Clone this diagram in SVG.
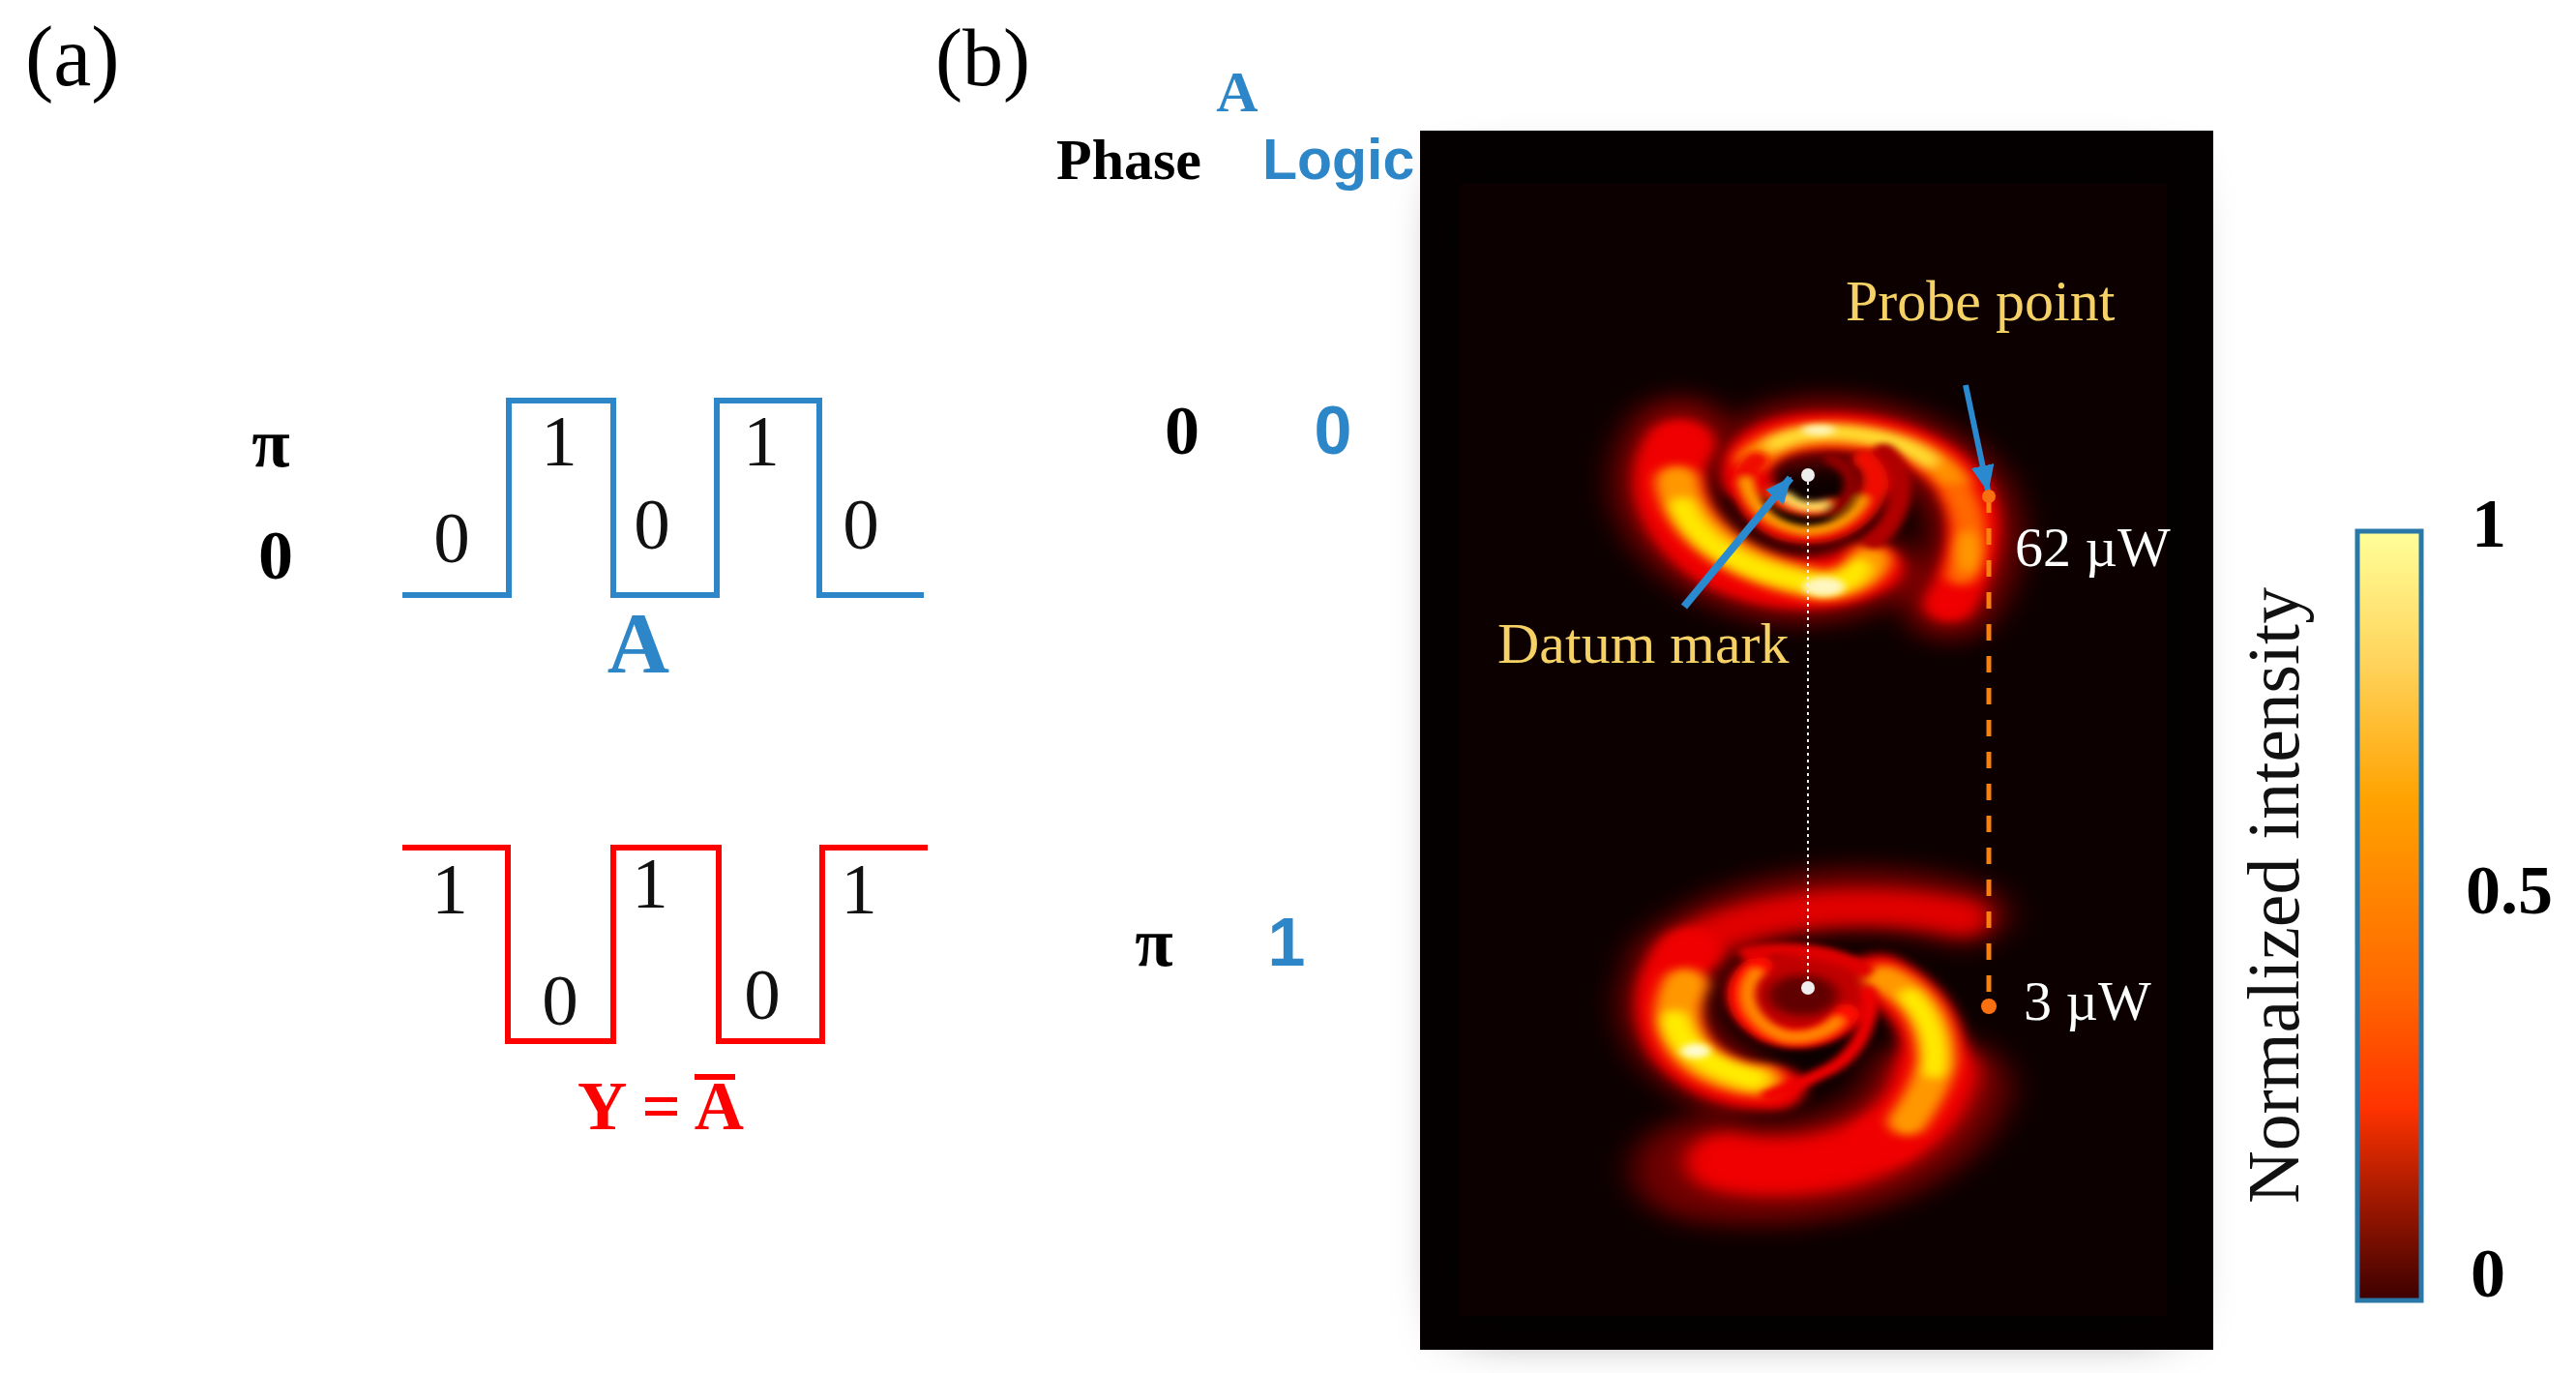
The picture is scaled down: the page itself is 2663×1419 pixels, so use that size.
<svg xmlns="http://www.w3.org/2000/svg" width="2663" height="1419" viewBox="0 0 2663 1419">
<style>
text{font-family:"Liberation Serif","Times New Roman",serif}
.c{text-anchor:middle}
.d{font-size:75px;fill:#111}
.b{font-weight:bold;font-size:72px;fill:#000}
.blue{fill:#2c86c8}
.sans{font-family:"Liberation Sans",Arial,sans-serif;font-weight:bold}
.lab{font-size:60px;fill:#f6d266}
.w{font-size:58px;fill:#fff}
.wave{fill:none;stroke-width:6;stroke-linejoin:miter}
.arm{fill:none;stroke-linecap:round}
</style>
<defs>
<filter id="b30" x="-60%" y="-60%" width="220%" height="220%"><feGaussianBlur stdDeviation="30"/></filter>
<filter id="b20" x="-60%" y="-60%" width="220%" height="220%"><feGaussianBlur stdDeviation="20"/></filter>
<filter id="b14" x="-60%" y="-60%" width="220%" height="220%"><feGaussianBlur stdDeviation="13"/></filter>
<filter id="b8" x="-60%" y="-60%" width="220%" height="220%"><feGaussianBlur stdDeviation="8"/></filter>
<linearGradient id="cmap" x1="0" y1="0" x2="0" y2="1">
<stop offset="0" stop-color="#ffff99"/><stop offset=".17" stop-color="#ffd45c"/><stop offset=".35" stop-color="#ffa200"/><stop offset=".6" stop-color="#ff6600"/><stop offset=".75" stop-color="#ff3300"/><stop offset=".87" stop-color="#a01800"/><stop offset="1" stop-color="#3c0000"/>
</linearGradient>
<marker id="head" markerUnits="userSpaceOnUse" markerWidth="30" markerHeight="26" refX="26" refY="12" orient="auto"><path d="M0 0L28 12L0 24z" fill="#2a8ad0"/></marker>
</defs>
<rect width="2663" height="1419" fill="#fff"/>

<g id="panel-a">
<text x="26" y="88" font-size="88">(a)</text>
<g id="wave-a">
<path class="wave" stroke="#2c86c8" d="M416 615H526V414H634V615H741V414H847V615H955"/>
<text class="c b" x="280" y="482">π</text>
<text class="c b" x="285" y="598">0</text>
<text class="c d" x="467" y="581">0</text>
<text class="c d" x="578" y="481">1</text>
<text class="c d" x="674" y="567">0</text>
<text class="c d" x="787" y="481">1</text>
<text class="c d" x="890" y="567">0</text>
<text class="c blue" x="660" y="694" font-size="89" font-weight="bold">A</text>
</g>
<g id="wave-y">
<path class="wave" stroke="#f00" d="M416 876H525V1076H634V876H743V1076H850V876H959"/>
<text class="c d" x="465" y="944">1</text>
<text class="c d" x="579" y="1059">0</text>
<text class="c d" x="672" y="938">1</text>
<text class="c d" x="788" y="1053">0</text>
<text class="c d" x="888" y="944">1</text>
<text x="597" y="1167" font-size="71" font-weight="bold" fill="#f00">Y = A</text>
<rect x="718" y="1110" width="42" height="6" fill="#f00"/>
</g>
</g>

<g id="panel-b">
<text x="967" y="88" font-size="84">(b)</text>
<text class="c blue" x="1279" y="115" font-size="60" font-weight="bold">A</text>
<text x="1092" y="185" font-size="60" font-weight="bold">Phase</text>
<text class="sans blue" x="1305" y="185" font-size="59">Logic</text>
<text class="c b" x="1222" y="469" font-size="70">0</text>
<text class="c sans blue" x="1378" y="469" font-size="70">0</text>
<text class="c b" x="1193" y="998" font-size="66">π</text>
<text class="c sans blue" x="1330" y="998" font-size="70">1</text>
</g>

<g id="intensity-image">
<rect x="1468" y="135" width="820" height="1260" fill="#050000"/>
<rect x="1510" y="190" width="730" height="1170" fill="#0c0000" filter="url(#b30)"/>
<g id="spiral-top" transform="matrix(.542 0 0 .3827 1460 130)">
<g class="arm" filter="url(#b30)">
<path stroke="#800000" stroke-width="190" d="M510 830C450 950 480 1080 570 1170C660 1260 790 1270 870 1200"/>
<path stroke="#800000" stroke-width="170" d="M700 840C820 780 1010 860 1060 1010C1090 1110 1065 1220 1025 1300"/>
</g>
<g class="arm" filter="url(#b14)">
<path stroke="#f00000" stroke-width="135" d="M510 860C470 950 490 1070 570 1160C650 1245 790 1265 870 1195"/>
<path stroke="#f00000" stroke-width="100" d="M640 960C620 880 690 825 780 825C900 815 1020 885 1060 1000C1085 1090 1062 1200 1025 1290"/>
</g>
<g class="arm" filter="url(#b14)">
<path stroke="#ff9800" stroke-width="84" d="M505 960C515 1080 610 1200 780 1240C830 1240 865 1205 872 1175"/>
<path stroke="#ffe800" stroke-width="50" d="M515 1030C540 1120 620 1205 785 1240C825 1238 845 1215 850 1195"/>
<path stroke="#ff9000" stroke-width="64" d="M650 900C700 830 800 815 900 850C960 870 1005 905 1035 965"/>
<path stroke="#ffe030" stroke-width="34" d="M690 860C730 825 800 815 880 840C930 855 965 880 985 905"/>
<path stroke="#ff6800" stroke-width="62" d="M1040 990C1068 1060 1068 1130 1048 1210"/>
</g>
<g class="arm" filter="url(#b8)">
<path stroke="#f01000" stroke-width="50" d="M655 905C612 960 640 1050 700 1090C760 1125 840 1095 870 1020C890 970 890 930 865 900"/>
<path stroke="#ffa000" stroke-width="20" d="M636 960C650 1040 690 1080 750 1092C800 1092 840 1060 858 1010"/>
<path stroke="#ff3000" stroke-width="40" d="M690 990C710 1030 760 1045 800 1025"/>
<path stroke="#ffe060" stroke-width="22" d="M715 1000C730 1025 760 1032 785 1024"/>
<path stroke="#b00000" stroke-width="44" d="M900 880C950 940 935 1060 880 1120"/>
<path stroke="#900000" stroke-width="30" d="M800 900C860 940 840 1010 800 1040"/>
</g>
<ellipse cx="775" cy="822" rx="32" ry="14" fill="#fff6c0" filter="url(#b8)"/>
<ellipse cx="785" cy="1245" rx="40" ry="26" fill="#fff6c0" filter="url(#b8)"/>
<ellipse cx="1060" cy="1150" rx="22" ry="60" fill="#ff9a00" filter="url(#b14)"/>
</g>
<g id="spiral-bottom" transform="matrix(.542 0 0 .3827 1460 780)">
<g class="arm" filter="url(#b30)">
<path stroke="#700000" stroke-width="280" d="M1000 900C960 1060 780 1160 560 1120"/>
<path stroke="#700000" stroke-width="170" d="M500 560C600 400 850 350 1050 430"/>
<path stroke="#800000" stroke-width="170" d="M520 560C450 650 480 800 600 880"/>
</g>
<g class="arm" filter="url(#b20)">
<path stroke="#f00000" stroke-width="160" d="M1000 860C980 990 880 1090 740 1110C690 1115 640 1115 600 1100"/>
<path stroke="#e00000" stroke-width="96" d="M520 530C620 420 860 380 1050 440"/>
</g>
<g class="arm" filter="url(#b14)">
<path stroke="#f00000" stroke-width="120" d="M530 530C470 610 480 720 510 790C550 860 610 900 690 900"/>
<path stroke="#f00000" stroke-width="125" d="M890 600C970 660 1010 760 990 870C975 950 950 1000 900 1040"/>
</g>
<ellipse cx="745" cy="650" rx="140" ry="125" fill="#c00000" filter="url(#b14)"/>
<g class="arm" filter="url(#b14)">
<path stroke="#ff9800" stroke-width="86" d="M520 620C485 720 520 810 580 850C610 870 640 880 665 880"/>
<path stroke="#ffec00" stroke-width="56" d="M500 720C510 780 560 840 650 875"/>
<path stroke="#ff9800" stroke-width="76" d="M900 605C970 650 1000 730 1000 830C990 890 965 950 945 990"/>
<path stroke="#ffec00" stroke-width="44" d="M950 655C985 710 1000 770 995 850"/>
</g>
<g class="arm" filter="url(#b8)">
<path stroke="#ff1000" stroke-width="54" d="M660 570C610 620 620 700 680 750C740 785 800 760 825 700"/>
<path stroke="#ff8800" stroke-width="24" d="M655 590C620 650 650 730 710 760C750 770 790 750 810 720"/>
<path stroke="#f00000" stroke-width="30" d="M870 640C880 720 850 820 780 860C740 890 700 910 680 920"/>
<path stroke="#e00000" stroke-width="36" d="M640 535C720 515 810 535 860 580"/>
</g>
<ellipse cx="540" cy="800" rx="28" ry="20" fill="#fffbd0" filter="url(#b8)"/>
<ellipse cx="745" cy="650" rx="66" ry="55" fill="#600000" filter="url(#b14)"/>
</g>
<g id="intensity-labels">
<text class="lab" x="1908" y="331" font-weight="500">Probe point</text>
<text class="lab" x="1548" y="685">Datum mark</text>
<text class="w" x="2083" y="585">62 µW</text>
<text class="w" x="2092" y="1054">3 µW</text>
</g>
</g>

<g id="connectors" fill="none">
<line x1="1869" y1="491" x2="1869" y2="1021" stroke="#eee" stroke-width="2" stroke-dasharray="3 4"/>
<line x1="2056" y1="513" x2="2056" y2="1040" stroke="#f88010" stroke-width="5" stroke-dasharray="17 16"/>
<line x1="1741" y1="627" x2="1851" y2="494" stroke="#2a8ad0" stroke-width="8" marker-end="url(#head)"/>
<line x1="2032" y1="398" x2="2055" y2="507" stroke="#2a8ad0" stroke-width="6" marker-end="url(#head)"/>
</g>
<g id="datum-top"><ellipse cx="1869" cy="491" rx="7" ry="7" fill="#eee"/></g>
<g id="datum-bottom"><circle cx="1869" cy="1021" r="7" fill="#eee"/></g>
<g id="probe-top"><circle cx="2056" cy="513" r="7" fill="#f87010"/></g>
<g id="probe-bottom"><circle cx="2056" cy="1040" r="8" fill="#f87010"/></g>

<g id="colorbar">
<rect x="2437" y="549" width="66" height="795" fill="url(#cmap)" stroke="#2a78a8" stroke-width="5"/>
<text x="2376" y="1244" font-size="76" textLength="637" lengthAdjust="spacingAndGlyphs" transform="rotate(-90 2376 1244)" fill="#111">Normalized intensity</text>
<text class="b" x="2555" y="565">1</text>
<text class="b" x="2549" y="944">0.5</text>
<text class="b" x="2554" y="1340">0</text>
</g>
</svg>
